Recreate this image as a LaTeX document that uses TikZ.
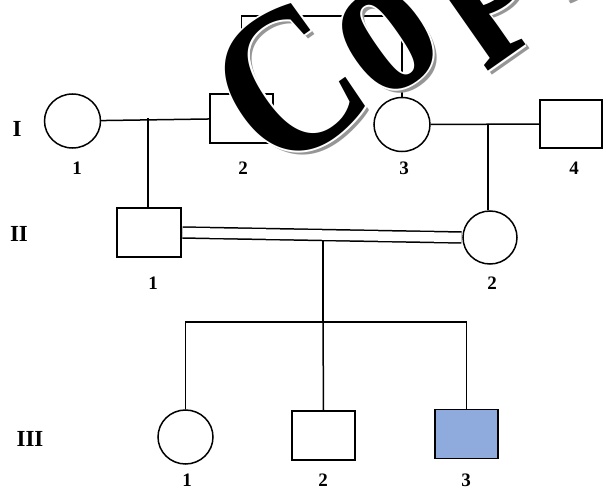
\documentclass[tikz,border=0pt]{standalone}
\usepackage{fontspec}
\setmainfont{Liberation Serif}
\usetikzlibrary{shapes.geometric}

\definecolor{affected}{RGB}{143,170,220}
\definecolor{wmshade}{RGB}{150,150,150}

\tikzset{
  male/.style={draw, rectangle, minimum width=63pt, minimum height=49pt, inner sep=0pt},
  female/.style={draw, ellipse, minimum width=56pt, minimum height=54pt, inner sep=0pt},
  idlabel/.style={font=\fontsize{19}{19}\selectfont\bfseries, inner sep=0pt},
  genlabel/.style={font=\fontsize{23}{23}\selectfont\bfseries, inner sep=0pt},
  wmglyph/.style={inner sep=0pt, transform shape, font=\fontsize{212}{212}\selectfont\bfseries},
  marriage/.style={double, double distance=9.5pt, shorten <=0.75pt, shorten >=0.75pt},
}

% one coloured copy of a watermark glyph: name, x, y, angle, colour, glyph
\newcommand\wmlayer[6]{%
  \begin{scope}[shift={(#2,#3)}]
    \node[wmglyph, text=#5, rotate=#4, xscale=0.84] (#1) at (0,0) {#6};
  \end{scope}}
% a watermark glyph with grey drop shadow and white rim: name, x, y, angle, glyph
\newcommand\wmletter[5]{%
  \wmlayer{#1s}{#2+4}{#3+4}{#4}{wmshade}{#5}
  \foreach \dx/\dy [count=\k] in {1.8/0,-1.8/0,0/1.8,0/-1.8,1.3/1.3,1.3/-1.3,-1.3/1.3,-1.3/-1.3}{
    \wmlayer{#1w\k}{#2+\dx}{#3+\dy}{#4}{white}{#5}}
  \wmlayer{#1}{#2}{#3}{#4}{black}{#5}}

\begin{document}
\begin{tikzpicture}[x=1pt, y=-1pt, line width=1.5pt]
\useasboundingbox (0,0) rectangle (603,487);
\clip (0,0) rectangle (603,487);

% generation I
\node[female] (I1) at (72.5,121) {};
\node[male] (I2) at (241.5,118.5) {};
\node[female] (I3) at (402,124.5) {};
\node[male, minimum width=62pt, minimum height=48pt] (I4) at (571,124) {};
% generation II
\node[male, minimum width=64pt] (II1) at (149,232.5) {};
\node[female, minimum width=54pt, minimum height=53pt] (II2) at (490,237.5) {};
% generation III
\node[female, minimum width=55pt] (III1) at (185.5,437) {};
\node[male] (III2) at (323.5,435.5) {};
\node[male, fill=affected] (III3) at (466.5,434) {};

% line points
\coordinate (u1) at (148,118);
\coordinate (u2) at (488,123.5);
\coordinate (sibtop) at (320,16);
\coordinate (c0) at (323,235);
\coordinate (sibbar) at (323,322);

% connectors
\draw (I1) -- (I2);
\draw (u1) -- (u1 |- II1.north);
\draw (I2.north) |- (sibtop) -| (I3.north);
\draw (I3) -- (I4);
\draw (u2) -- (u2 |- II2.north);
\draw (c0) -- (sibbar);
\draw[marriage] (II1.east) -- (II2.west);
\draw (III1.north) |- (sibbar) -| (III3.north);
\draw (sibbar) -- (III2.north);

% generation numerals
\node[genlabel] (gI) at (17,128.5) {I};
\node[genlabel] (gII) at (19,234) {II};
\node[genlabel] (gIII) at (30,439) {III};

% individual numbers
\node[idlabel] (nI1) at (77,168.5) {1};
\node[idlabel] (nI2) at (243,168.5) {2};
\node[idlabel] (nI3) at (404,168.5) {3};
\node[idlabel] (nI4) at (574,168.5) {4};
\node[idlabel] (nII1) at (153,283.5) {1};
\node[idlabel] (nII2) at (492,283.5) {2};
\node[idlabel] (nIII1) at (187,480) {1};
\node[idlabel] (nIII2) at (323,480) {2};
\node[idlabel] (nIII3) at (466,480) {3};

% watermark
\wmletter{wmC}{289}{84}{35}{C}
\wmletter{wmo}{388}{40}{35}{o}
\wmletter{wmp}{485}{-15}{35}{p}
\wmletter{wmy}{560}{-80}{35}{y}
\end{tikzpicture}
\end{document}
